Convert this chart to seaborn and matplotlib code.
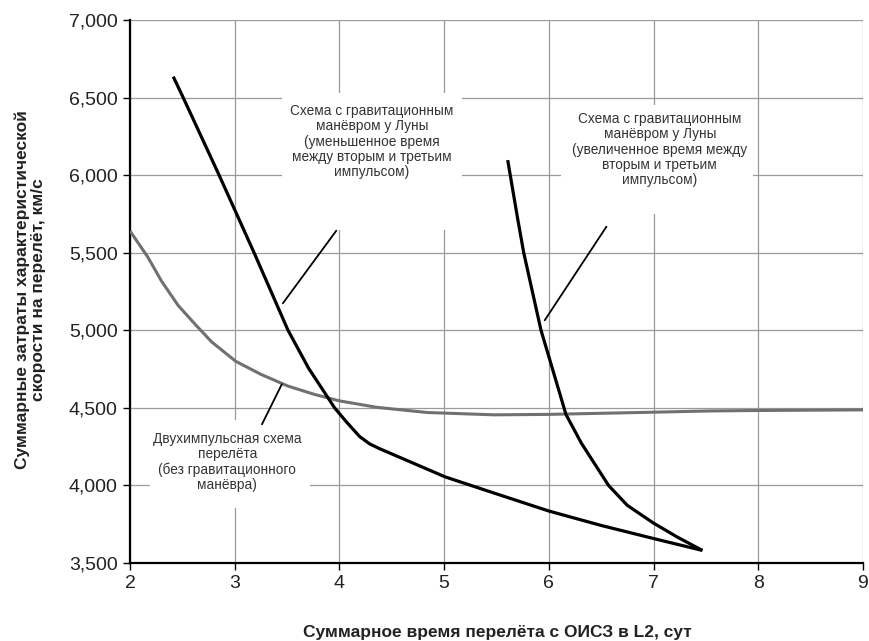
import numpy as np
import pandas as pd
import matplotlib
matplotlib.use("Agg")
import matplotlib.pyplot as plt
import seaborn as sns
from matplotlib.patches import Rectangle
from matplotlib.ticker import FuncFormatter

# --- data ---
two_impulse_x = [2.0, 2.17, 2.30, 2.46, 2.62, 2.78, 3.01, 3.25, 3.51, 3.76, 4.0, 4.36, 4.84, 5.48, 6.0, 6.5, 7.0, 7.53, 8.0, 8.5, 9.0]
two_impulse_y = [5640, 5472, 5318, 5160, 5040, 4925, 4800, 4716, 4640, 4587, 4545, 4503, 4470, 4455, 4458, 4465, 4472, 4480, 4483, 4485, 4487]

short_x = [2.413, 2.508, 2.851, 3.185, 3.509, 3.706, 3.954, 4.066, 4.193, 4.288, 4.383, 5.01, 5.48, 6.00, 6.50, 7.01, 7.466]
short_y = [6635, 6500, 6000, 5500, 5000, 4755, 4500, 4410, 4315, 4268, 4237, 4055, 3950, 3835, 3742, 3656, 3581]

long_x = [5.607, 5.70, 5.76, 5.925, 6.00, 6.163, 6.31, 6.57, 6.75, 7.00, 7.227, 7.466]
long_y = [6097, 5727, 5500, 5000, 4830, 4458, 4273, 4000, 3871, 3757, 3667, 3581]

x_ticks = [2, 3, 4, 5, 6, 7, 8, 9]
y_ticks = [3500, 4000, 4500, 5000, 5500, 6000, 6500, 7000]

label_short = "Схема с гравитационным\nманёвром у Луны\n(уменьшенное время\nмежду вторым и третьим\nимпульсом)"
label_long = "Схема с гравитационным\nманёвром у Луны\n(увеличенное время между\nвторым и третьим\nимпульсом)"
label_two = "Двухимпульсная схема\nперелёта\n(без гравитационного\nманёвра)"
x_label = "Суммарное время перелёта с ОИСЗ в L2, сут"
y_label = "Суммарные затраты характеристической\nскорости на перелёт, км/с"

df = pd.concat([
    pd.DataFrame({"x": two_impulse_x, "y": two_impulse_y, "s": "two"}),
    pd.DataFrame({"x": short_x, "y": short_y, "s": "short"}),
    pd.DataFrame({"x": long_x, "y": long_y, "s": "long"}),
], ignore_index=True)

sns.set_theme(style="white")
plt.rcParams['font.family'] = ['Liberation Sans', 'DejaVu Sans']

fig = plt.figure(figsize=(8.7, 6.41), dpi=100)
ax = fig.add_axes([130/870, 1-563/641, (863-130)/870, (563-20)/641])

ax.set_xlim(2, 9)
ax.set_ylim(3500, 7000)
ax.set_xticks(x_ticks)
ax.set_yticks(y_ticks)
ax.yaxis.set_major_formatter(FuncFormatter(lambda v, p: f"{v:,.0f}"))
ax.set_axisbelow(True)
ax.grid(True, color="#9a9a9a", lw=0.9)

line_kw = dict(sort=False, ax=ax, solid_capstyle="butt", solid_joinstyle="round")
sns.lineplot(data=df[df.s == "two"], x="x", y="y", color="#707070", lw=2.2, zorder=3, **line_kw)
sns.lineplot(data=df[df.s == "short"], x="x", y="y", color="black", lw=2.3, zorder=4, **line_kw)
sns.lineplot(data=df[df.s == "long"], x="x", y="y", color="black", lw=2.3, zorder=4, **line_kw)

# white boxes behind labels
for (x0, x1, y0, y1) in [(3.45, 5.17, 5646, 6529), (6.12, 7.95, 5750, 6452), (2.19, 3.72, 3854, 4422)]:
    ax.add_patch(Rectangle((x0, y0), x1 - x0, y1 - y0, facecolor="white", edgecolor="none", zorder=1))

txt_kw = dict(ha="center", va="center", fontsize=9.8, color="#333333", linespacing=1.12, zorder=5)
ax.text(4.31, 6215, label_short, **txt_kw)
ax.text(7.06, 6165, label_long, **txt_kw)
ax.text(2.93, 4150, label_two, **txt_kw)

# leader lines
ax.plot([3.46, 3.97], [5174, 5642], color="black", lw=1.3, zorder=5)
ax.plot([5.96, 6.55], [5064, 5668], color="black", lw=1.3, zorder=5)
ax.plot([3.26, 3.45], [4394, 4652], color="black", lw=1.3, zorder=5)

for side in ["top", "right"]:
    ax.spines[side].set_visible(False)
for side in ["left", "bottom"]:
    ax.spines[side].set_color("black")
    ax.spines[side].set_linewidth(1.6)

ax.tick_params(axis="both", direction="out", length=5, width=1, color="black",
               labelsize=14, labelcolor="#222222", pad=4, left=True, bottom=True)
ax.set_xlabel("")
ax.set_ylabel("")

fig.text(497/870, 1-632/641, x_label, ha="center", va="center", fontsize=12.5,
         fontweight="bold", color="#222222")
fig.text(30/870, 1-290/641, y_label, ha="center", va="center", fontsize=12.5,
         fontweight="bold", color="#222222", rotation=90, multialignment="center", linespacing=1.1)

fig.savefig("out.png", dpi=100)
